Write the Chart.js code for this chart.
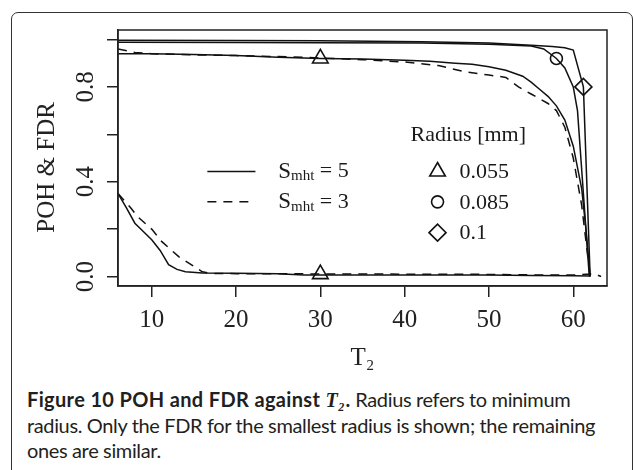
<!DOCTYPE html>
<html>
<head>
<meta charset="utf-8">
<script src="https://cdn.jsdelivr.net/npm/chart.js@4.4.0/dist/chart.umd.min.js"></script>
<style>
  html, body { margin: 0; padding: 0; background: #fff; }
  body { width: 633px; height: 470px; position: relative; overflow: hidden; }
  #frame { position: absolute; left: 11px; top: 12px; width: 622px; height: 500px;
           border: 1.5px solid #333; border-radius: 7px; box-sizing: border-box; }
  #wrap { position: absolute; left: 0; top: 0; width: 633px; height: 380px; }
  #caption { position: absolute; left: 27px; top: 387px; font-family: Lato, sans-serif;
             font-size: 20px; line-height: 25px; color: #231f20; white-space: nowrap;
             letter-spacing: -0.36px; }
  #caption b { font-weight: 700; letter-spacing: 0.35px; }
  #caption .t { font-family: "Liberation Serif", serif; font-style: italic; font-weight: 700; }
</style>
</head>
<body>
<div id="frame"></div>
<div id="wrap"><canvas id="chart" width="633" height="380"></canvas></div>
<div id="caption"><b>Figure 10 POH and FDR against <span class="t">T₂</span>.</b> Radius refers to minimum<br>radius. Only the FDR for the smallest radius is shown; the remaining<br>ones are similar.</div>
<script>
// T2 tick values / labels
const xTicks = [10, 20, 30, 40, 50, 60];
const xTickLabels = ['10', '20', '30', '40', '50', '60'];
const yTicks = [0, 0.2, 0.4, 0.6, 0.8, 1.0];
const yTickLabels = ['0.0', '', '0.4', '', '0.8', ''];

// POH curves, [T2, value]
const pohR010Smht5 = [[6,0.997],[20,0.996],[30,0.995],[42,0.99],[50,0.985],[55,0.976],[57.5,0.97],[59,0.965],[60,0.955],[61.2,0.80],[62,0]];
const pohR085Smht5 = [[6,0.988],[20,0.987],[30,0.986],[42,0.985],[50,0.98],[55,0.972],[56.5,0.96],[58,0.92],[59,0.88],[60,0.80],[60.5,0.70],[61.9,0]];
const pohR055Smht5 = [[6,0.94],[10,0.94],[15,0.937],[20,0.932],[25,0.925],[30,0.92],[35,0.918],[40,0.912],[43,0.908],[46,0.9],[48,0.895],[50,0.885],[52,0.87],[54,0.845],[55,0.82],[56,0.79],[57,0.76],[58,0.72],[59,0.66],[60,0.55],[61,0.37],[61.5,0.2],[62,0]];
const pohR055Smht3 = [[6,0.96],[8,0.945],[10,0.94],[15,0.935],[20,0.932],[25,0.928],[30,0.922],[35,0.915],[40,0.905],[44,0.89],[47,0.865],[50,0.85],[52,0.84],[53.5,0.8],[55,0.77],[56,0.75],[57,0.73],[58,0.70],[59,0.63],[60,0.50],[61,0.3],[61.5,0.15],[62,0]];

// FDR curves (smallest radius only)
const fdrR055Smht5 = [[6,0.35],[7,0.29],[8,0.225],[9,0.19],[10,0.155],[11,0.11],[12,0.05],[13,0.03],[14,0.02],[16,0.015],[20,0.014],[25,0.012],[28,0.006],[40,0.006],[50,0.006],[55,0.004],[60,0.003],[62,0.002]];
const fdrR055Smht3 = [[6,0.35],[7.5,0.29],[8.4,0.25],[10,0.2],[11.2,0.147],[13.2,0.084],[15.2,0.038],[16,0.02],[17,0.013],[20,0.012],[30,0.011],[40,0.01],[50,0.009],[55,0.007],[60,0.006],[62.5,0.012],[63.3,0]];

// radius markers
const markR055 = [[30,0.92],[30,0.01]];
const markR085 = [[58,0.92]];
const markR010 = [[61.2,0.80]];

const radiusLabels = ['0.055', '0.085', '0.1'];
const radiusStyles = ['triangle', 'circle', 'rectRot'];
const smhtLabels = ['5', '3'];

const ink = '#111';
const serif = '"Liberation Serif", "Times New Roman", serif';
const toXY = pts => pts.map(([x, y]) => ({ x, y }));

function lineSet(pts, dashed) {
  return {
    data: toXY(pts), showLine: true, pointRadius: 0, borderColor: ink,
    borderWidth: 1.5, borderDash: dashed ? [9, 7] : [], tension: 0, fill: false
  };
}
function markSet(pts, style, r) {
  return {
    data: toXY(pts), showLine: false, pointStyle: style, pointRadius: r,
    pointBorderColor: ink, pointBackgroundColor: 'rgba(0,0,0,0)', pointBorderWidth: 1.6
  };
}

function drawMark(ctx, style, r, x, y) {
  ctx.beginPath();
  if (style === 'triangle') {
    for (let k = 0; k < 3; k++) {
      const a = k * 2 * Math.PI / 3;
      const px = x + Math.sin(a) * r, py = y - Math.cos(a) * r;
      k ? ctx.lineTo(px, py) : ctx.moveTo(px, py);
    }
    ctx.closePath();
  } else if (style === 'circle') {
    ctx.arc(x, y, r, 0, 2 * Math.PI);
  } else {
    ctx.moveTo(x - r, y); ctx.lineTo(x, y - r); ctx.lineTo(x + r, y); ctx.lineTo(x, y + r);
    ctx.closePath();
  }
  ctx.stroke();
}

const boxPlugin = {
  id: 'box',
  afterDatasetsDraw(chart) {
    const { ctx, chartArea: a } = chart;
    ctx.save();
    ctx.strokeStyle = '#222';
    ctx.lineWidth = 1.5;
    ctx.strokeRect(a.left, a.top, a.right - a.left, a.bottom - a.top);
    ctx.restore();
  }
};

// two in-plot legends, anchored in data units
const legendPlugin = {
  id: 'legends',
  afterDraw(chart) {
    const { ctx } = chart;
    const xs = chart.scales.x, ys = chart.scales.y;
    const rows = [0.443, 0.315, 0.185].map(v => ys.getPixelForValue(v));
    ctx.save();
    ctx.strokeStyle = ink;
    ctx.fillStyle = '#1a1a1a';
    ctx.textBaseline = 'middle';

    // S_mht legend
    const x0 = xs.getPixelForValue(16.6), x1 = xs.getPixelForValue(22.3);
    const tx = xs.getPixelForValue(25.0);
    smhtLabels.forEach((lab, i) => {
      const y = rows[i];
      ctx.lineWidth = 1.5;
      ctx.setLineDash(i ? [9, 7] : []);
      ctx.beginPath(); ctx.moveTo(x0, y); ctx.lineTo(x1, y); ctx.stroke();
      ctx.setLineDash([]);
      let x = tx;
      ctx.font = '23px ' + serif;
      ctx.fillText('S', x, y); x += ctx.measureText('S').width;
      ctx.font = '15px ' + serif;
      ctx.fillText('mht', x, y + 5); x += ctx.measureText('mht').width;
      ctx.font = '22px ' + serif;
      ctx.fillText(' = ' + lab, x, y);
    });

    // Radius legend
    ctx.font = '22px ' + serif;
    ctx.fillText('Radius [mm]', xs.getPixelForValue(40.7), ys.getPixelForValue(0.597));
    const mx = xs.getPixelForValue(43.9), lx = xs.getPixelForValue(46.5);
    const sizes = [9, 6, 8.5];
    radiusLabels.forEach((lab, i) => {
      ctx.lineWidth = 1.6;
      drawMark(ctx, radiusStyles[i], sizes[i], mx, rows[i]);
      ctx.fillText(lab, lx, rows[i] + 1);
    });
    ctx.restore();
  }
};

const axisFont = { family: serif, size: 25 };

new Chart(document.getElementById('chart').getContext('2d'), {
  type: 'scatter',
  data: {
    datasets: [
      lineSet(pohR010Smht5, false),
      lineSet(pohR085Smht5, false),
      lineSet(pohR055Smht5, false),
      lineSet(pohR055Smht3, true),
      lineSet(fdrR055Smht5, false),
      lineSet(fdrR055Smht3, true),
      markSet(markR055, 'triangle', 9),
      markSet(markR085, 'circle', 6),
      markSet(markR010, 'rectRot', 8.5)
    ]
  },
  options: {
    responsive: false,
    animation: false,
    devicePixelRatio: 1,
    layout: { padding: { left: 0, right: 26, top: 30, bottom: 0 } },
    plugins: { legend: { display: false }, tooltip: { enabled: false } },
    scales: {
      x: {
        type: 'linear', min: 6, max: 64,
        afterBuildTicks: a => { a.ticks = xTicks.map(v => ({ value: v })); },
        afterFit: s => { s.height = 94; },
        ticks: { font: axisFont, color: '#222', padding: 8, maxRotation: 0, autoSkip: false,
                 callback: (v, i) => xTickLabels[i] },
        grid: { display: true, drawOnChartArea: false, drawTicks: true, tickLength: 11,
                color: '#222', lineWidth: 1.5 },
        border: { display: true, color: '#222', width: 1.5 },
        title: { display: true, text: 'T₂', font: axisFont, color: '#222',
                 padding: { top: 0, bottom: 7 } }
      },
      y: {
        type: 'linear', min: -0.04, max: 1.04,
        afterBuildTicks: a => { a.ticks = yTicks.map(v => ({ value: v })); },
        afterFit: s => { s.width = 118; },
        ticks: { font: axisFont, color: '#222', padding: 5, minRotation: 90, maxRotation: 90,
                 crossAlign: 'center', autoSkip: false, callback: (v, i) => yTickLabels[i] },
        grid: { display: true, drawOnChartArea: false, drawTicks: true, tickLength: 11,
                color: '#222', lineWidth: 1.5 },
        border: { display: true, color: '#222', width: 1.5 },
        // trailing spaces nudge the rotated label down a little, as in the figure
        title: { display: true, text: 'POH & FDR   ', font: axisFont, color: '#222',
                 padding: { top: 32, bottom: 0 } }
      }
    }
  },
  plugins: [boxPlugin, legendPlugin]
});
</script>
</body>
</html>
